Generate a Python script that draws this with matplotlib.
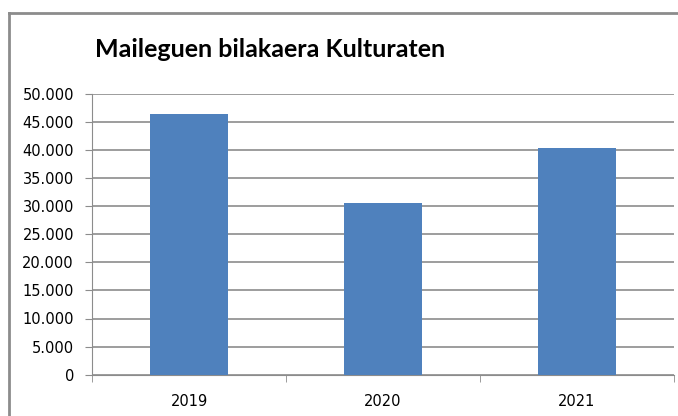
import matplotlib.pyplot as plt
from matplotlib.lines import Line2D
from matplotlib.ticker import FuncFormatter

years = ['2019', '2020', '2021']
loans = [46400, 30500, 40300]

fig = plt.figure(figsize=(6.78, 4.16), dpi=100)
ax = fig.add_axes([92 / 678, 41.3 / 416, 582 / 678, 281 / 416])

x = range(len(years))
ax.bar(x, loans, width=0.4, color='#4f81bd', zorder=3)

ax.set_xlim(-0.5, len(years) - 0.5)
ax.set_ylim(0, 50000)
ax.set_yticks(range(0, 50001, 5000))
ax.yaxis.set_major_formatter(FuncFormatter(lambda v, p: f'{int(v):,}'.replace(',', '.')))
ax.set_xticks(list(x))
ax.set_xticklabels(years)
ax.set_xticks([i - 0.5 for i in range(len(years) + 1)], minor=True)

ax.grid(axis='y', color='#8c8c8c', linewidth=1.2, zorder=0)
for s in ['top', 'right']:
    ax.spines[s].set_visible(False)
ax.spines['left'].set_color('#8c8c8c')
ax.spines['bottom'].set_color('#8c8c8c')
ax.tick_params(axis='y', length=5, color='#8c8c8c', labelsize=10.5, pad=8)
ax.tick_params(axis='x', which='major', length=0, labelsize=10.5, pad=14)
ax.tick_params(axis='x', which='minor', length=5, color='#8c8c8c')

fig.text(270 / 678, 0.882, 'Maileguen bilakaera Kulturaten', ha='center', va='center',
         fontsize=18, fontweight='bold', family='Lato')

# chart frame
fig.add_artist(Line2D([8.5 / 678, 8.5 / 678], [0, 1 - 13 / 416], transform=fig.transFigure,
                      color='#8c8c8c', linewidth=2))
fig.add_artist(Line2D([8.5 / 678, 1], [1 - 13 / 416, 1 - 13 / 416], transform=fig.transFigure,
                      color='#8c8c8c', linewidth=2))

fig.savefig('out.png', dpi=100)
